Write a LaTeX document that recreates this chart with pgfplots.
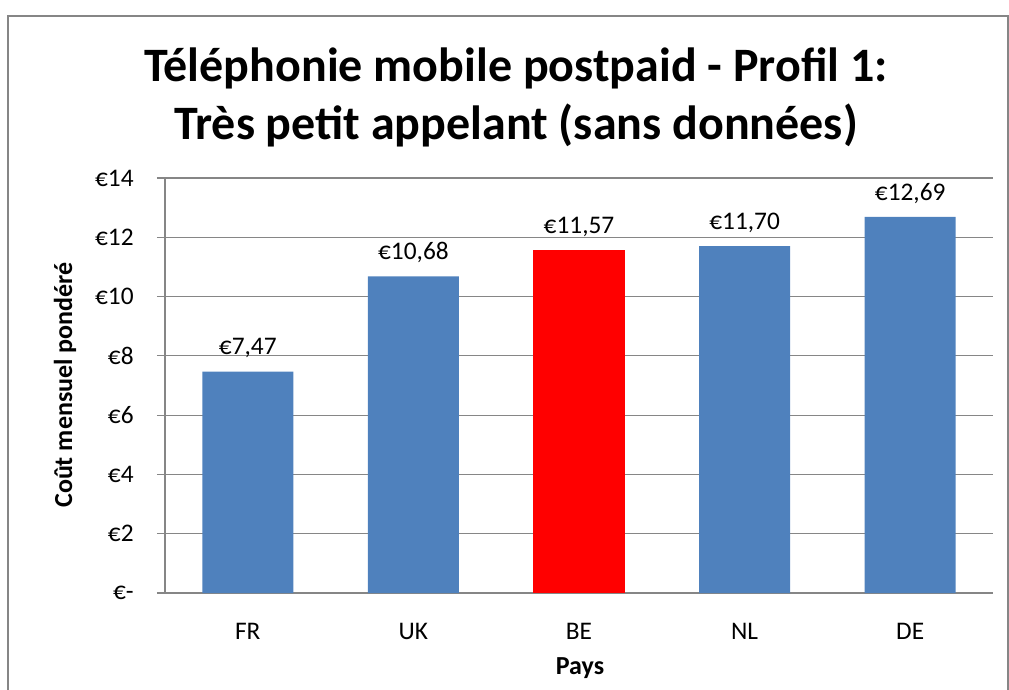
\documentclass[border=0pt]{standalone}
\usepackage{pgfplots}
\pgfplotsset{compat=1.18}
\usepackage{fontspec}
\setmainfont{Carlito}
\definecolor{barblue}{HTML}{4F81BD}
\definecolor{axgray}{HTML}{868686}
\pgfplotstableread{
x y lab
0 7.47 €7,47
1 10.68 €10,68
3 11.70 €11,70
4 12.69 €12,69
}\bluedata
\pgfplotstableread{
x y lab
2 11.57 €11,57
}\reddata
\begin{document}
\begin{tikzpicture}
\useasboundingbox (0pt,0pt) rectangle (756.75pt,516.75pt);
\draw[axgray, line width=0.9pt] (6pt,504.75pt) rectangle (756pt,-30pt);
\begin{axis}[
  at={(123.75pt,72pt)}, anchor=south west,
  scale only axis, width=621pt, height=311.25pt,
  xmin=-0.5, xmax=4.5, ymin=0, ymax=14,
  axis x line*=bottom, axis y line*=left,
  axis line style={draw=axgray, line width=0.9pt, -},
  ytick={0,2,...,14},
  yticklabels={€-,€2,€4,€6,€8,€10,€12,€14},
  ymajorgrids, grid style={draw=axgray, line width=0.9pt},
  xtick={0,1,2,3,4}, xticklabels={FR,UK,BE,NL,DE},
  major x tick style={draw=none},
  extra x ticks={-0.5,0.5,1.5,2.5,3.5,4.5},
  extra x tick labels={},
  extra x tick style={major tick length=6pt, tick style={draw=axgray, line width=0.9pt}, tick align=outside, grid=none},
  major tick length=6pt, tick align=outside,
  ytick style={draw=axgray, line width=0.9pt},
  tick label style={font=\fontsize{19}{22}\selectfont},
  yticklabel style={xshift=-14pt},
  xticklabel style={yshift=-13pt},
  ybar, bar width=0.55, bar shift=0pt,
  nodes near coords, point meta=explicit symbolic,
  nodes near coords style={font=\fontsize{19}{22}\selectfont, anchor=base, yshift=12.5pt, text=black},
  clip=false,
]
\addplot[fill=barblue, draw=none] table[x=x, y=y, meta=lab] {\bluedata};
\addplot[fill=red, draw=none] table[x=x, y=y, meta=lab] {\reddata};
\end{axis}
\node[font=\bfseries\fontsize{36}{43}\selectfont, anchor=base] at (387pt,455.25pt) {Téléphonie mobile postpaid - Profil 1:};
\node[font=\bfseries\fontsize{36}{43}\selectfont, anchor=base] at (387pt,411.75pt) {Très petit appelant (sans données)};
\node[font=\bfseries\fontsize{19.5}{23}\selectfont, rotate=90] at (48.75pt,228pt) {Coût mensuel pondéré};
\node[font=\bfseries\fontsize{19.5}{23}\selectfont] at (435pt,15.75pt) {Pays};
\end{tikzpicture}
\end{document}
